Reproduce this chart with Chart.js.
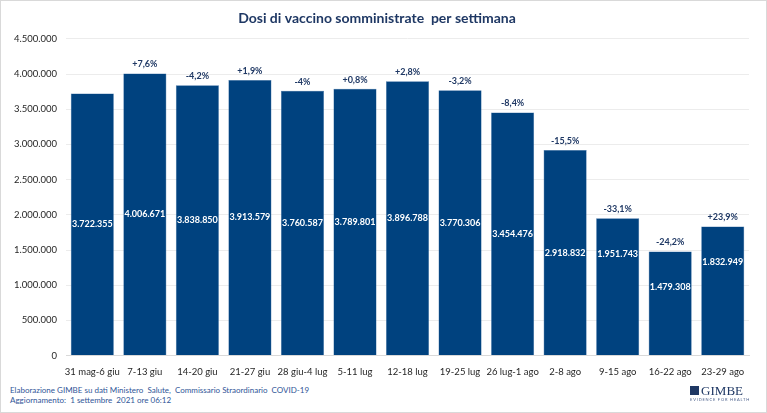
<!DOCTYPE html>
<html>
<head>
<meta charset="utf-8">
<script src="https://cdn.jsdelivr.net/npm/chart.js@4"></script>
<style>
  html, body { margin: 0; padding: 0; background: #fff; }
  #wrap { position: relative; width: 765px; height: 411px; border: 1px solid #d9d9d9; font-family: Lato, "Open Sans", sans-serif; }
  #chart-box { position: absolute; left: 0; top: 0; width: 765px; height: 380px; }
  .foot { position: absolute; left: 9px; font-size: 8px; color: #2f5597; }
  #logo { position: absolute; right: 16px; top: 378px; text-align: left; color: #1f3864; }
  #logo .mark { display: inline-block; width: 9px; height: 9px; background: #1f3864; vertical-align: 0px; margin-right: 2px; }
  #logo .name { font-family: "Liberation Serif", "DejaVu Serif", serif; font-size: 13px; }
  #logo .tag { font-size: 4px; letter-spacing: 0.8px; color: #4a5f8a; margin-top: -2px; }
</style>
</head>
<body>
<div id="wrap">
  <div id="chart-box"><canvas id="dosiChart"></canvas></div>
  <div class="foot" style="top:384px">Elaborazione GIMBE su dati Ministero&nbsp; Salute,&nbsp; Commissario Straordinario&nbsp; COVID-19</div>
  <div class="foot" style="top:394px">Aggiornamento:&nbsp; 1 settembre&nbsp; 2021 ore 06:12</div>
  <div id="logo"><div><span class="mark"></span><span class="name">GIMBE</span></div><div class="tag">EVIDENCE FOR HEALTH</div></div>
</div>
<script>
// Weekly doses
const weeks = ['31 mag-6 giu', '7-13 giu', '14-20 giu', '21-27 giu', '28 giu-4 lug', '5-11 lug', '12-18 lug',
    '19-25 lug', '26 lug-1 ago', '2-8 ago', '9-15 ago', '16-22 ago', '23-29 ago'];
const doses = [3722355, 4006671, 3838850, 3913579, 3760587, 3789801, 3896788,
    3770306, 3454476, 2918832, 1951743, 1479308, 1832949];
const weekChange = ['', '+7,6%', '-4,2%', '+1,9%', '-4%', '+0,8%', '+2,8%',
    '-3,2%', '-8,4%', '-15,5%', '-33,1%', '-24,2%', '+23,9%'];

const navy = '#00427f';
const fontFamily = 'Lato, "Open Sans", sans-serif';

function fmt(v) {
    return String(v).replace(/\B(?=(\d{3})+(?!\d))/g, '.');
}

// draws the value inside each bar and the % change above it
const barLabels = {
    id: 'barLabels',
    afterDatasetsDraw(chart) {
        const ctx = chart.ctx;
        const meta = chart.getDatasetMeta(0);
        ctx.save();
        ctx.textAlign = 'center';
        ctx.textBaseline = 'middle';
        meta.data.forEach((bar, i) => {
            const h = bar.base - bar.y;
            const midY = h < 150 ? bar.y + 36 : bar.y + h / 2;
            ctx.fillStyle = '#ffffff';
            ctx.font = 'bold 9px ' + fontFamily;
            ctx.fillText(fmt(doses[i]), bar.x, midY);
            if (weekChange[i]) {
                ctx.fillStyle = '#1f3864';
                ctx.font = 'bold 9px ' + fontFamily;
                ctx.fillText(weekChange[i], bar.x, bar.y - 9);
            }
        });
        ctx.restore();
    }
};

new Chart(document.getElementById('dosiChart'), {
    type: 'bar',
    data: {
        labels: weeks,
        datasets: [{
            data: doses,
            backgroundColor: navy,
            borderColor: '#3a6ea5',
            borderWidth: 0.5,
            barPercentage: 0.82,
            categoryPercentage: 1
        }]
    },
    options: {
        responsive: true,
        maintainAspectRatio: false,
        animation: false,
        layout: { padding: { left: 4, right: 17, top: 7, bottom: 0 } },
        plugins: {
            legend: { display: false },
            tooltip: { enabled: false },
            title: {
                display: true,
                text: 'Dosi di vaccino somministrate  per settimana',
                color: '#1f3864',
                font: { family: fontFamily, size: 14, weight: 'bold' },
                padding: { top: 2, bottom: 12 }
            }
        },
        scales: {
            x: {
                grid: { display: false },
                border: { color: '#d9d9d9' },
                ticks: { color: '#262626', font: { family: fontFamily, size: 9.5 }, maxRotation: 0, autoSkip: false }
            },
            y: {
                min: 0,
                max: 4500000,
                grid: { color: '#ececec', drawTicks: false },
                border: { display: false },
                ticks: {
                    stepSize: 500000,
                    padding: 9,
                    color: '#262626',
                    font: { family: fontFamily, size: 9.5 },
                    callback: v => fmt(v)
                }
            }
        }
    },
    plugins: [barLabels]
});
</script>
</body>
</html>
